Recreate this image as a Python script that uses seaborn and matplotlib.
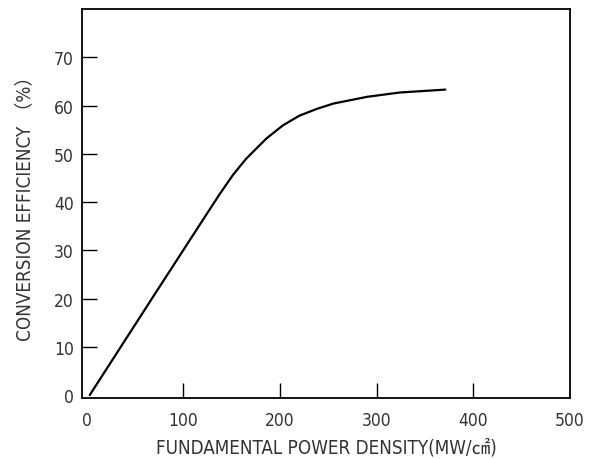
import matplotlib
matplotlib.use("Agg")
import matplotlib.pyplot as plt
import seaborn as sns
import pandas as pd

power_density = [3, 68, 124, 138, 151.5, 165, 186, 203, 220, 238, 255, 290, 324, 371]
efficiency = [0, 20.2, 37.5, 41.8, 45.7, 49.0, 53.2, 55.9, 57.9, 59.3, 60.4, 61.8, 62.7, 63.3]
x_ticks = [0, 100, 200, 300, 400, 500]
y_ticks = [0, 10, 20, 30, 40, 50, 60, 70]

sns.set_theme(style="white")
fam = ['DejaVu Sans', 'Noto Sans CJK JP']
plt.rcParams['font.family'] = fam
plt.rcParams['font.stretch'] = 'condensed'

df = pd.DataFrame({"x": power_density, "y": efficiency})
fig = plt.figure(figsize=(5.96, 4.6), dpi=100)
ax = fig.add_axes([82/596, 1-398.5/460, (570-82)/596, (398.5-10)/460])
sns.lineplot(data=df, x="x", y="y", ax=ax, color="black", linewidth=1.6)

ax.set_xlim(-5, 500)
ax.set_ylim(-0.5, 80)
ax.set_xticks(x_ticks)
ax.set_yticks(y_ticks)
ax.tick_params(axis='both', direction='in', length=11, width=1.0, color='black',
               labelsize=12.5, labelcolor='#333333')
ax.tick_params(axis='x', pad=10)
ax.tick_params(axis='y', pad=6)
ax.tick_params(top=False, right=False, bottom=True, left=True)
for lab in ax.get_xticklabels() + ax.get_yticklabels():
    lab.set_fontstretch('condensed')
ax.xaxis.get_major_ticks()[0].tick1line.set_visible(False)
ax.xaxis.get_major_ticks()[-1].tick1line.set_visible(False)
ax.yaxis.get_major_ticks()[0].tick1line.set_visible(False)
for s in ax.spines.values():
    s.set_color('black')
    s.set_linewidth(1.3)
    s.set_visible(True)

ax.set_xlabel("FUNDAMENTAL POWER DENSITY(MW/㎠)", fontsize=13.5, color='#333333',
              fontstretch='condensed', labelpad=6)
ax.set_ylabel("CONVERSION EFFICIENCY （%）", fontsize=13.5, color='#333333',
              fontstretch='condensed', labelpad=14)

fig.savefig("out.png", dpi=100, facecolor='white')
